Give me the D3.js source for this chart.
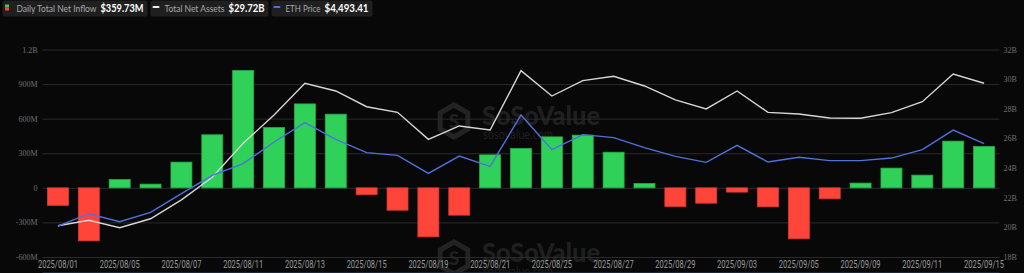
<!DOCTYPE html>
<html>
<head>
<meta charset="utf-8">
<script src="https://cdn.jsdelivr.net/npm/d3@7"></script>
<style>
  html, body { margin: 0; padding: 0; background: #080808; }
  svg { display: block; }
</style>
</head>
<body>
<svg id="chart" width="1024" height="273"></svg>
<script>
// trading days shown on the chart
const dates = [
  '2025/08/01', '2025/08/04', '2025/08/05', '2025/08/06', '2025/08/07', '2025/08/08',
  '2025/08/11', '2025/08/12', '2025/08/13', '2025/08/14', '2025/08/15',
  '2025/08/18', '2025/08/19', '2025/08/20', '2025/08/21', '2025/08/22',
  '2025/08/25', '2025/08/26', '2025/08/27', '2025/08/28', '2025/08/29',
  '2025/09/02', '2025/09/03', '2025/09/04', '2025/09/05',
  '2025/09/08', '2025/09/09', '2025/09/10', '2025/09/11', '2025/09/12',
  '2025/09/15',
];
// daily total net inflow, millions USD
const netInflow = [
  -152, -460, 72, 32, 223, 460,
  1017, 523, 728, 639, -58,
  -194, -425, -237, 286, 341,
  442, 457, 309, 37, -162,
  -133, -37, -165, -442,
  -95, 41, 171, 110, 405,
  358,
];
// total net assets, billions USD
const netAssets = [
  20.11, 20.48, 19.98, 20.58, 21.85, 23.38,
  25.67, 27.58, 29.72, 29.20, 28.14,
  27.76, 25.94, 26.84, 26.57, 30.57,
  28.86, 29.90, 30.19, 29.54, 28.60,
  27.99, 29.20, 27.76, 27.65,
  27.38, 27.36, 27.74, 28.48, 30.35,
  29.72,
];
// ETH price, USD
const ethPrice = [
  3480, 3632, 3534, 3648, 3878, 4103,
  4247, 4513, 4751, 4546, 4382,
  4349, 4128, 4341, 4214, 4845,
  4419, 4604, 4567, 4444, 4337,
  4263, 4472, 4267, 4325,
  4284, 4284, 4316, 4419, 4660,
  4493.41,
];
const leftTicks = [-600, -300, 0, 300, 600, 900, 1200];
const rightTicks = [18, 20, 22, 24, 26, 28, 30, 32];
const xTickLabels = dates.filter((d, i) => i % 2 === 0);

const legendItems = [
  { key: 'inflow', label: 'Daily Total Net Inflow', value: '$359.73M', labelLen: 80, valueLen: 43 },
  { key: 'assets', label: 'Total Net Assets', value: '$29.72B', labelLen: 60, valueLen: 36 },
  { key: 'price', label: 'ETH Price', value: '$4,493.41', labelLen: 35, valueLen: 44 },
];

const colours = {
  up: '#30d158',
  upEdge: '#27ad49',
  down: '#ff453a',
  downEdge: '#d63a31',
  assets: '#d6d6d6',
  price: '#5170dc',
  grid: '#2b2b2b',
  tick: '#707070',
  date: '#9a9a9a',
};

const svg = d3.select('#chart');
const plot = { left: 42.5, right: 999.5, top: 49.5, bottom: 257 };

const x = d3.scaleBand()
  .domain(dates)
  .range([plot.left, plot.right])
  .paddingInner(0.32)
  .paddingOuter(0.16);
const yFlow = d3.scaleLinear().domain([-600, 1200]).range([plot.bottom, plot.top]);
const yAssets = d3.scaleLinear().domain([18, 32]).range([plot.bottom, plot.top]);
// hidden axis for the price line
const yPrice = d3.scaleLinear().domain([3100, 5650]).range([plot.bottom, plot.top]);

// watermark, drawn twice
function watermark(dy) {
  const g = svg.append('g')
    .attr('transform', `translate(0,${dy})`)
    .style('fill', 'rgba(255,255,255,0.11)');
  const hex = d3.range(6).map((k) => {
    const a = Math.PI / 6 + k * Math.PI / 3;
    return [454 + 16 * Math.cos(a), 121 + 16 * Math.sin(a)];
  });
  g.append('path')
    .attr('d', `M${hex.join('L')}Z`)
    .style('fill', 'none')
    .style('stroke', 'rgba(255,255,255,0.11)')
    .style('stroke-width', 5);
  g.append('text')
    .attr('x', 454)
    .attr('y', 128)
    .attr('text-anchor', 'middle')
    .style('font', '900 19px Lato, sans-serif')
    .text('S');
  g.append('text')
    .attr('x', 482)
    .attr('y', 125)
    .attr('textLength', 118)
    .attr('lengthAdjust', 'spacingAndGlyphs')
    .style('font', '900 26px Lato, sans-serif')
    .text('SoSoValue');
  g.append('text')
    .attr('x', 483)
    .attr('y', 139)
    .attr('textLength', 70)
    .attr('lengthAdjust', 'spacingAndGlyphs')
    .style('font', '400 14px Lato, sans-serif')
    .text('sosovalue.com');
}
watermark(0);
watermark(137);

// left axis with gridlines
const leftAxis = svg.append('g')
  .attr('transform', `translate(${plot.left},0)`)
  .call(d3.axisLeft(yFlow)
    .tickValues(leftTicks)
    .tickSize(-(plot.right - plot.left))
    .tickPadding(5)
    .tickFormat((d) => (d >= 1000 ? `${d / 1000}B` : d === 0 ? '0' : `${d}M`)));
leftAxis.select('.domain').remove();
leftAxis.selectAll('line').style('stroke', colours.grid);
leftAxis.selectAll('text')
  .style('fill', colours.tick)
  .style('font', '8px "Liberation Serif", serif');

// right axis
const rightAxis = svg.append('g')
  .attr('transform', `translate(${plot.right},0)`)
  .call(d3.axisRight(yAssets)
    .tickValues(rightTicks)
    .tickSize(0)
    .tickPadding(4)
    .tickFormat((d) => `${d}B`));
rightAxis.select('.domain').remove();
rightAxis.selectAll('text')
  .style('fill', colours.tick)
  .style('font', '8px "Liberation Serif", serif');

// x axis
const xAxis = svg.append('g')
  .attr('transform', `translate(0,${plot.bottom})`)
  .call(d3.axisBottom(x)
    .tickValues(xTickLabels)
    .tickSize(0)
    .tickPadding(4));
xAxis.select('.domain').remove();
xAxis.selectAll('text')
  .attr('textLength', 40)
  .attr('lengthAdjust', 'spacingAndGlyphs')
  .style('fill', colours.date)
  .style('font', '10px Roboto, sans-serif');

// slider edge at the very bottom
svg.append('line')
  .attr('x1', plot.left)
  .attr('x2', plot.right)
  .attr('y1', 272.5)
  .attr('y2', 272.5)
  .style('stroke', '#1b2538');

// bars
svg.append('g')
  .selectAll('rect')
  .data(netInflow)
  .join('rect')
  .attr('x', (d, i) => x(dates[i]))
  .attr('width', x.bandwidth())
  .attr('y', (d) => yFlow(Math.max(0, d)))
  .attr('height', (d) => Math.abs(yFlow(d) - yFlow(0)))
  .style('fill', (d) => (d >= 0 ? colours.up : colours.down))
  .style('stroke', (d) => (d >= 0 ? colours.upEdge : colours.downEdge))
  .style('stroke-width', 0.8);

const cx = (i) => x(dates[i]) + x.bandwidth() / 2;

svg.append('path')
  .datum(netAssets)
  .attr('d', d3.line().x((d, i) => cx(i)).y((d) => yAssets(d)))
  .style('fill', 'none')
  .style('stroke', colours.assets)
  .style('stroke-width', 1.4);

svg.append('path')
  .datum(ethPrice)
  .attr('d', d3.line().x((d, i) => cx(i)).y((d) => yPrice(d)))
  .style('fill', 'none')
  .style('stroke', colours.price)
  .style('stroke-width', 1.4);

// legend
let lx = 2.5;
legendItems.forEach((item) => {
  const g = svg.append('g').attr('class', 'item');
  const w = 14 + item.labelLen + 4 + item.valueLen + 4;
  g.append('rect')
    .attr('x', lx)
    .attr('y', 0.5)
    .attr('width', w)
    .attr('height', 16)
    .attr('rx', 2)
    .style('fill', '#1f1f1f');
  if (item.key === 'inflow') {
    g.append('rect').attr('x', lx + 2.5).attr('y', 4.5).attr('width', 4).attr('height', 3)
      .style('fill', colours.up);
    g.append('rect').attr('x', lx + 2.5).attr('y', 7.5).attr('width', 4).attr('height', 3)
      .style('fill', colours.down);
  } else {
    g.append('rect').attr('x', lx + 2).attr('y', 6).attr('width', 7).attr('height', 2)
      .attr('rx', 1)
      .style('fill', item.key === 'assets' ? '#eeeeee' : colours.price);
  }
  g.append('text')
    .attr('x', lx + 14)
    .attr('y', 11.5)
    .attr('textLength', item.labelLen)
    .attr('lengthAdjust', 'spacingAndGlyphs')
    .style('font', '9.5px Lato, sans-serif')
    .style('fill', '#a8a8a8')
    .text(item.label);
  g.append('text')
    .attr('x', lx + 14 + item.labelLen + 4)
    .attr('y', 12)
    .attr('textLength', item.valueLen)
    .attr('lengthAdjust', 'spacingAndGlyphs')
    .style('font', '700 11px Lato, sans-serif')
    .style('fill', '#ffffff')
    .text(item.value);
  lx += w + 3;
});
</script>
</body>
</html>
